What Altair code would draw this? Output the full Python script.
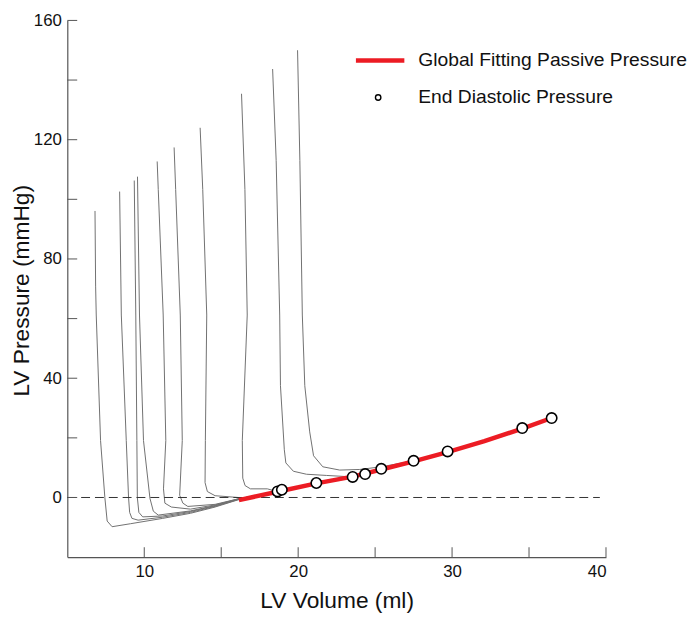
import altair as alt
import pandas as pd

# ---------------- data ----------------
x_domain = [5, 40]
y_domain = [-20, 160]
x_labels = [10, 20, 30, 40]
y_labels = [0, 40, 80, 120, 160]
x_ticks = [10, 15, 20, 25, 30, 35, 40]
y_ticks = [0, 20, 40, 60, 80, 100, 120, 140, 160]

# global fitting passive pressure curve
fit_v = [16.15, 18.66, 21.18, 23.54, 25.40, 27.50, 29.70, 32.10, 34.56, 36.47]
fit_p = [-0.86, 1.94, 4.75, 7.02, 9.39, 12.09, 15.22, 18.89, 23.10, 26.67]

# end diastolic pressure points
edp_v = [18.66, 18.94, 21.18, 23.54, 24.35, 25.40, 27.50, 29.71, 34.56, 36.47]
edp_p = [2.04, 2.60, 4.86, 6.90, 7.87, 9.62, 12.30, 15.45, 23.30, 26.65]

# pressure-volume traces (relaxation + early filling)
t1_v = [6.80, 6.84, 6.88, 7.16, 7.44, 7.59, 7.91, 9.10, 11.20, 13.00, 14.60, 16.15]
t1_p = [96.1, 70.9, 61.2, 19.1, 0.0, -7.9, -9.8, -8.8, -7.0, -5.3, -3.2, -0.7]
t2_v = [8.40, 8.51, 8.83, 8.98, 9.05, 9.20, 9.60, 11.20, 13.00, 14.60, 16.15]
t2_p = [102.6, 61.2, 19.1, 0.0, -5.0, -7.0, -7.6, -6.6, -5.0, -3.0, -0.6]
t3_v = [9.35, 9.45, 9.52, 9.55, 9.65, 9.90, 11.20, 13.00, 14.60, 16.15]
t3_p = [106.3, 61.2, 19.1, 0.0, -5.0, -6.5, -6.2, -4.7, -2.8, -0.5]
t4_v = [9.56, 9.69, 9.95, 10.37, 10.59, 10.91, 13.00, 14.60, 16.15]
t4_p = [107.6, 61.2, 19.1, -0.3, -4.6, -5.9, -4.5, -2.7, -0.5]
t5_v = [10.84, 10.91, 11.23, 11.40, 11.25, 11.34, 11.76, 13.00, 14.60, 16.15]
t5_p = [112.7, 103.3, 61.2, 19.1, 2.9, -1.9, -3.2, -3.9, -2.5, -0.4]
t6_v = [11.94, 12.04, 12.34, 12.47, 12.30, 12.51, 12.83, 14.60, 16.15]
t6_p = [117.4, 103.3, 61.2, 19.1, 0.75, -1.9, -3.0, -2.3, -0.4]
t7_v = [13.63, 13.80, 14.06, 13.97, 13.95, 14.10, 14.60, 16.10]
t7_p = [124.0, 103.3, 61.2, 19.1, 5.0, 2.0, 0.6, 0.0]
t8_v = [16.32, 16.54, 16.69, 16.37, 16.40, 16.55, 16.90, 18.00]
t8_p = [135.4, 103.3, 61.2, 19.1, 6.5, 4.0, 2.9, 2.9]
t9_v = [18.34, 18.57, 18.80, 18.85, 19.10, 19.20, 19.69, 20.54, 21.83]
t9_p = [143.7, 113.0, 61.2, 37.5, 16.0, 11.6, 8.8, 7.8, 7.4]
t10_v = [19.96, 20.11, 20.27, 20.43, 20.75, 21.00, 21.60, 22.70, 24.00, 25.40]
t10_p = [150.0, 113.0, 61.2, 37.5, 22.0, 14.0, 10.3, 9.2, 9.4, 10.3]

trace_v = [t1_v, t2_v, t3_v, t4_v, t5_v, t6_v, t7_v, t8_v, t9_v, t10_v]
trace_p = [t1_p, t2_p, t3_p, t4_p, t5_p, t6_p, t7_p, t8_p, t9_p, t10_p]
trace_end = [0, 2, 4, 5, 7, 8, 9, 1, 3, 6]   # index of each trace's EDP point

legend_labels = ["Global Fitting Passive Pressure", "End Diastolic Pressure"]

# ---------------- tables ----------------
rows = []
for k, (vs, ps) in enumerate(zip(trace_v, trace_p)):
    i = 0
    for v, p in zip(vs, ps):
        rows.append({"trace": k, "i": i, "v": v, "p": p}); i += 1
    e = trace_end[k]
    for fv, fp in zip(fit_v, fit_p):
        if vs[-1] < fv < edp_v[e]:
            rows.append({"trace": k, "i": i, "v": fv, "p": fp}); i += 1
    rows.append({"trace": k, "i": i, "v": edp_v[e], "p": edp_p[e]})
df_tr = pd.DataFrame(rows)
df_fit = pd.DataFrame({"v": fit_v, "p": fit_p, "i": list(range(len(fit_v)))})
df_edp = pd.DataFrame({"v": edp_v, "p": edp_p})

W, H = 545, 543
FONT = "Liberation Sans"
AX = "#555555"
RED = "#ec1c24"

xs = alt.Scale(domain=x_domain, nice=False, zero=False)
ys = alt.Scale(domain=y_domain, nice=False, zero=False)
x_axis = alt.Axis(values=x_labels, title="LV Volume (ml)", labelPadding=7, titlePadding=10)
y_axis = alt.Axis(values=y_labels, title="LV Pressure (mmHg)", labelPadding=6,
                  titleX=-34, titleY=273)


def X(field):
    return alt.X(field, type="quantitative", scale=xs, axis=x_axis)


def Y(field):
    return alt.Y(field, type="quantitative", scale=ys, axis=y_axis)


traces = alt.Chart(df_tr).mark_line(color="#707070", strokeWidth=1).encode(
    x=X("v"), y=Y("p"), detail="trace:N", order="i:Q")

xtick = alt.Chart(pd.DataFrame({"v": x_ticks})).mark_rule(color=AX, strokeWidth=1).encode(
    x=X("v"), y=alt.value(H), y2=alt.value(H - 10))
ytick = alt.Chart(pd.DataFrame({"p": y_ticks})).mark_rule(color=AX, strokeWidth=1).encode(
    y=Y("p"), x=alt.value(0), x2=alt.value(10))

zero = alt.Chart(pd.DataFrame({"p": [0], "v": [5], "v1": [39.6]})).mark_rule(
    color="#333333", strokeWidth=1, strokeDash=[9, 5]).encode(
    y=Y("p"), x=X("v"), x2="v1:Q")

fit = alt.Chart(df_fit).mark_line(color=RED, strokeWidth=4.5).encode(
    x=X("v"), y=Y("p"), order="i:Q")

edp = alt.Chart(df_edp).mark_point(shape="circle", filled=True, fill="white", stroke="black",
                                   strokeWidth=1.6, size=110, opacity=1).encode(
    x=X("v"), y=Y("p"))

one = pd.DataFrame({"a": [0]})
leg_line = alt.Chart(one).mark_rule(color=RED, strokeWidth=4.5).encode(
    x=alt.value(292), x2=alt.value(341), y=alt.value(40.5))
leg_pt = alt.Chart(one).mark_point(shape="circle", filled=True, fill="white", stroke="black",
                                   strokeWidth=1.4, size=30, opacity=1).encode(
    x=alt.value(314.5), y=alt.value(78))
leg_t1 = alt.Chart(one).mark_text(align="left", baseline="middle", font=FONT, fontSize=19.5,
                                  color="#111111").encode(
    x=alt.value(355), y=alt.value(40), text=alt.value(legend_labels[0]))
leg_t2 = alt.Chart(one).mark_text(align="left", baseline="middle", font=FONT, fontSize=19.5,
                                  color="#111111").encode(
    x=alt.value(355), y=alt.value(78), text=alt.value(legend_labels[1]))

chart = alt.layer(traces, zero, xtick, ytick, fit, edp, leg_line, leg_pt, leg_t1, leg_t2).properties(
    width=W, height=H,
    padding={"left": 60, "top": 9, "right": 85, "bottom": 57},
    autosize=alt.AutoSizeParams(type="none"),
).configure_view(stroke=None).configure_axis(
    domainColor=AX, domainWidth=1.2, grid=False, ticks=False,
    labelFont=FONT, labelFontSize=17, labelColor="#111111",
    titleFont=FONT, titleFontSize=23, titleFontWeight="normal", titleColor="#111111",
)

chart.save("out.html", embed_options={"renderer": "svg", "actions": False})
